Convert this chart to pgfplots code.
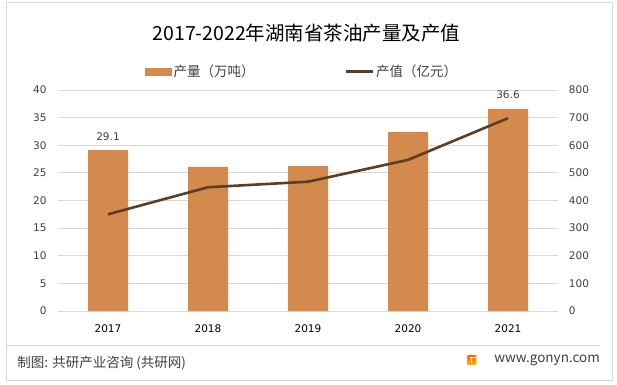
\documentclass[border=0pt]{standalone}
\usepackage{pgfplots}
\pgfplotsset{compat=1.18}
\usepackage{fontspec}
\setmainfont{Noto Sans CJK SC}
\newfontfamily\tickfont{DejaVu Sans}
\definecolor{barc}{HTML}{D38A4C}
\definecolor{linec}{HTML}{5C3E26}
\definecolor{gridc}{HTML}{D9D9D9}
\definecolor{txt}{HTML}{404040}
\begin{document}
\begin{tikzpicture}[x=1bp,y=1bp]
\useasboundingbox (0,0) rectangle (617,384);
\fill[white] (0,0) rectangle (617,384);
\draw[gridc, line width=1bp] (6,3.5) rectangle (612,381.3);
\node[font=\fontsize{19.5bp}{22bp}\selectfont, text=black] at (306.5,351) {2017-2022年湖南省茶油产量及产值};
\draw[gridc, line width=1bp] (6,39) -- (600,39);
\node[anchor=west, font=\fontsize{13.5bp}{16bp}\selectfont, text=txt, inner sep=0pt] at (17.3,21.3) {制图: 共研产业咨询 (共研网)};
\node[anchor=east, font=\fontsize{13.5bp}{16bp}\selectfont, text=txt, inner sep=0pt] at (600,23.3) {www.gonyn.com};
\shade[top color=orange!80!red, bottom color=orange!60!yellow, rounded corners=1bp] (467,19) rectangle (476.3,29);
\draw[white, line width=1.6bp] (469.5,26.5) -- (476.3,26.5);
\draw[white, line width=1.6bp] (471.5,26.5) -- (471.5,21);
\begin{axis}[at={(58bp,73bp)}, anchor=south west, scale only axis,
  width=500bp, height=221bp, xmin=-0.5, xmax=4.5, ymin=0, ymax=40,
  ytick={0,5,...,40}, xtick={0,1,2,3,4}, xticklabels={2017,2018,2019,2020,2021},
  ymajorgrids, grid style={gridc, line width=0.8bp},
  axis line style={draw=none}, major tick length=0pt,
  tick label style={font=\tickfont\fontsize{10.5bp}{12bp}\selectfont, text=txt},
  /pgf/number format/assume math mode=true,
  yticklabel style={anchor=east, inner sep=0pt, xshift=-11.3bp},
  xticklabel style={anchor=base, inner sep=0pt, yshift=-21.1bp, text=black},
  clip=false]
\addplot[ybar, bar width=40bp, fill=barc, draw=none, nodes near coords,
  point meta=explicit symbolic,
  nodes near coords style={anchor=base, inner sep=0pt, yshift=9.9bp,
    font=\tickfont\fontsize{10.5bp}{12bp}\selectfont, text=txt}]
  coordinates {(0,29.1)[29.1] (1,26.1)[] (2,26.2)[] (3,32.4)[] (4,36.6)[36.6]};
\end{axis}
\begin{axis}[at={(58bp,73bp)}, anchor=south west, scale only axis,
  width=500bp, height=221bp, xmin=-0.5, xmax=4.5, ymin=0, ymax=800,
  ytick={0,100,...,800}, axis x line=none, axis y line*=right,
  axis line style={draw=none}, major tick length=0pt,
  tick label style={font=\tickfont\fontsize{10.5bp}{12bp}\selectfont, text=txt},
  /pgf/number format/assume math mode=true,
  yticklabel style={anchor=west, inner sep=0pt, xshift=10.7bp},
  legend columns=2,
  legend style={at={(0.174,1.0837)}, anchor=west, draw=none, fill=none,
    inner sep=0pt, font=\fontsize{13.5bp}{15bp}\selectfont, text=txt,
    /tikz/every even column/.append style={column sep=88bp}},
  clip=false]
\addlegendimage{legend image code/.code={\fill[barc] (0bp,-3.2bp) rectangle (26bp,3.2bp);}}
\addlegendentry{产量（万吨）}
\addplot[linec, line width=2.6bp, line join=round, mark=none,
  legend image code/.code={\draw[linec, line width=2.6bp] (0bp,0bp) -- (27bp,0bp);}]
  coordinates {(0,350) (1,448) (2,468) (3,547) (4,698)};
\addlegendentry{产值（亿元）}
\end{axis}
\end{tikzpicture}
\end{document}
